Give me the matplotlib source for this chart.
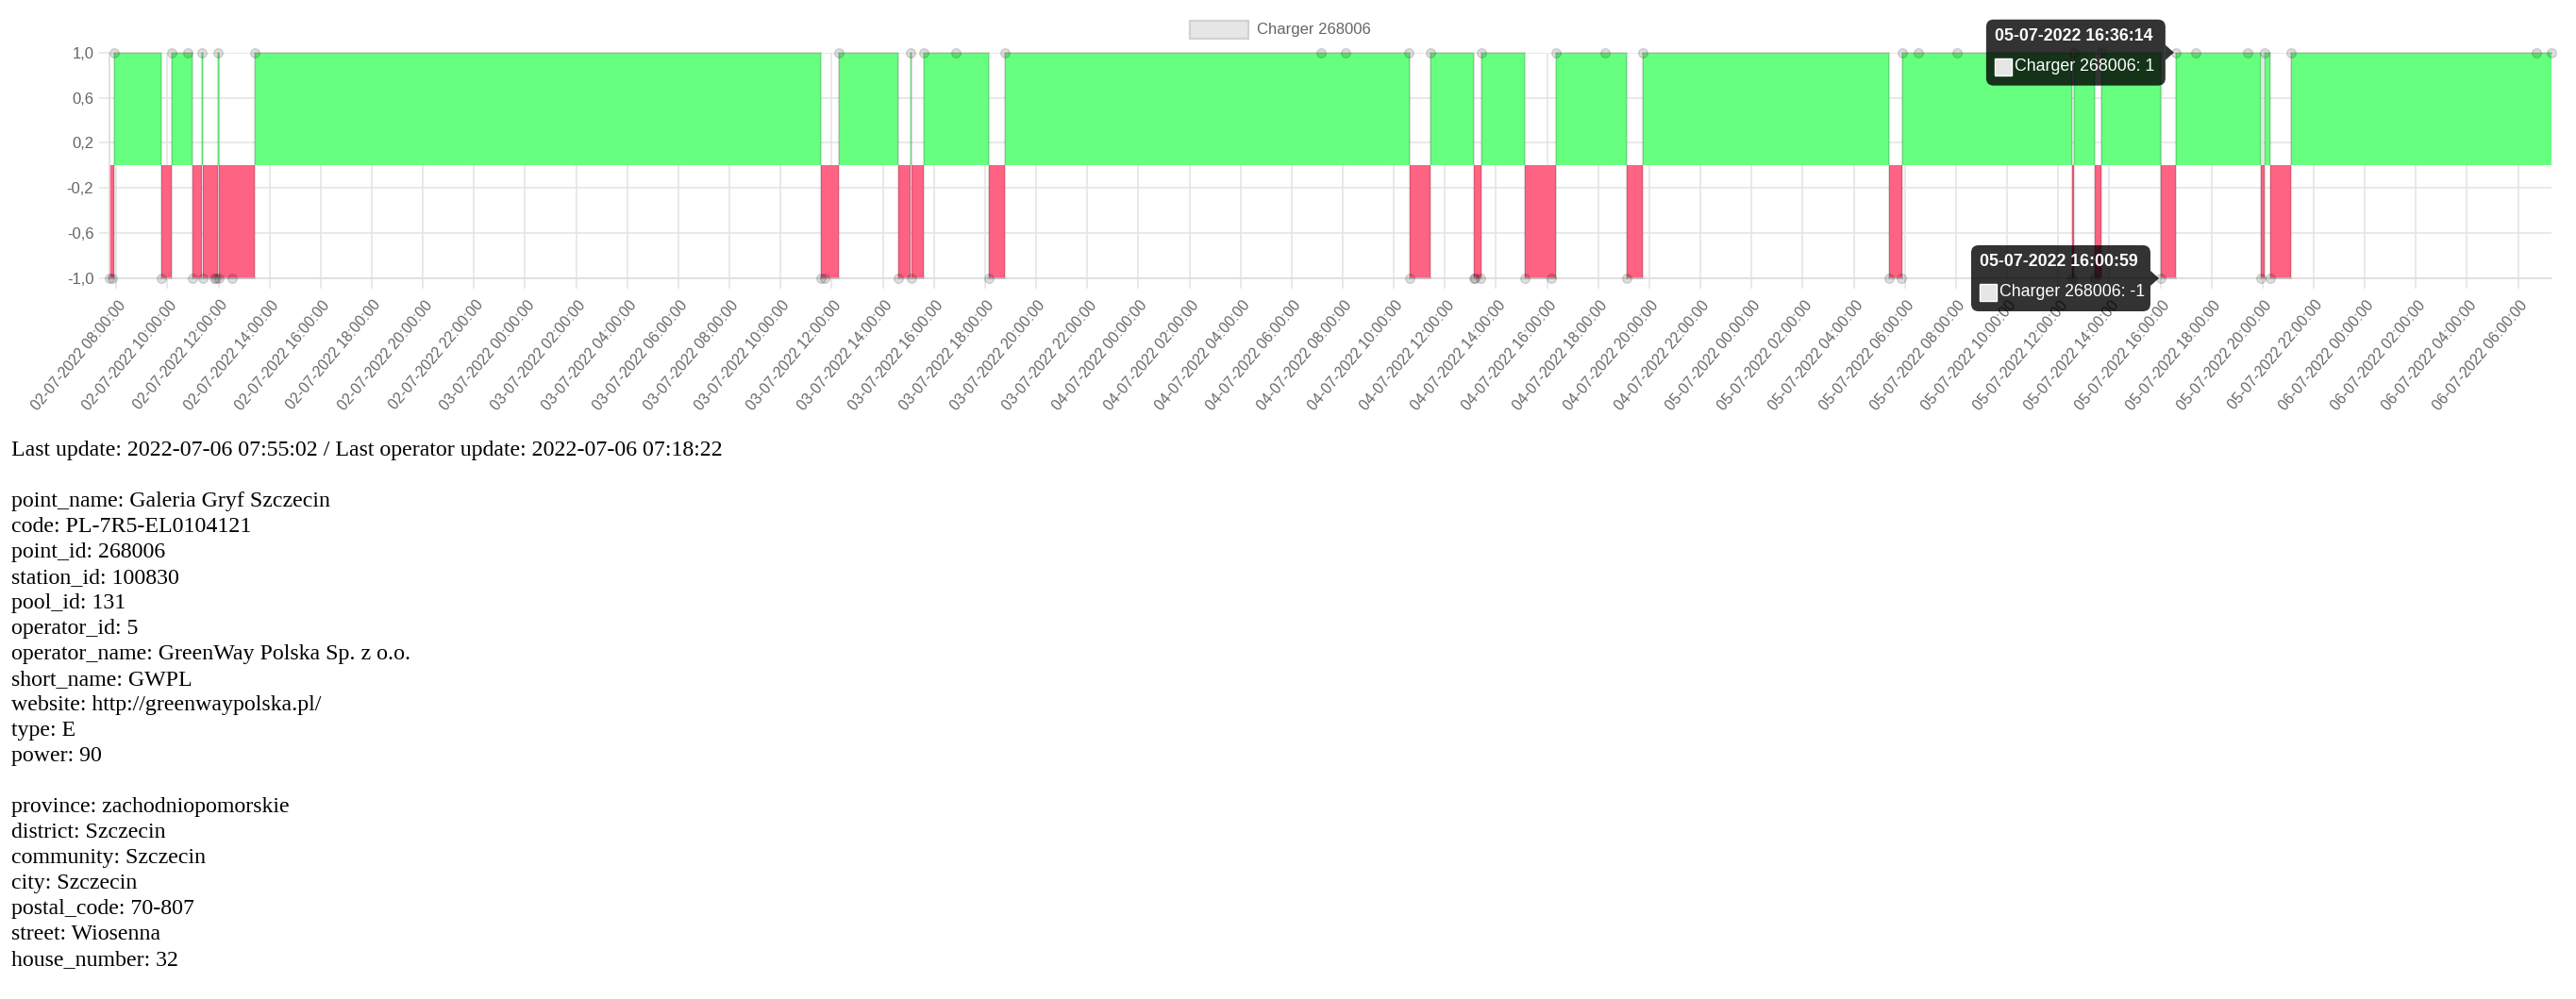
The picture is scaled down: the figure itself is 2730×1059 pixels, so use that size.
import numpy as np
import pandas as pd
import matplotlib
matplotlib.use("Agg")
import matplotlib.pyplot as plt
import matplotlib.dates as mdates
import matplotlib.transforms as mtrans
from matplotlib.patches import FancyBboxPatch, Rectangle, Polygon

plt.rcParams['font.family'] = ['Liberation Sans', 'DejaVu Sans']

W, H, DPI = 2730, 1059, 100

# charger status samples: 1 = available, -1 = not available
times = [
    "2022-07-02 07:44", "2022-07-02 07:50", "2022-07-02 07:54", "2022-07-02 09:45",
    "2022-07-02 10:11", "2022-07-02 10:49", "2022-07-02 11:00", "2022-07-02 11:22",
    "2022-07-02 11:23", "2022-07-02 11:51", "2022-07-02 11:55", "2022-07-02 11:59",
    "2022-07-02 12:00", "2022-07-02 12:33", "2022-07-02 13:25",
    "2022-07-03 11:35", "2022-07-03 11:44", "2022-07-03 12:16", "2022-07-03 14:37",
    "2022-07-03 15:05", "2022-07-03 15:07", "2022-07-03 15:36", "2022-07-03 16:52",
    "2022-07-03 18:09", "2022-07-03 18:46",
    "2022-07-04 07:10", "2022-07-04 08:07", "2022-07-04 10:34", "2022-07-04 10:37",
    "2022-07-04 11:27", "2022-07-04 13:07", "2022-07-04 13:11", "2022-07-04 13:24",
    "2022-07-04 13:25", "2022-07-04 15:08", "2022-07-04 16:09", "2022-07-04 16:21",
    "2022-07-04 18:15", "2022-07-04 19:06", "2022-07-04 19:44",
    "2022-07-05 05:22", "2022-07-05 05:51", "2022-07-05 05:53", "2022-07-05 06:31",
    "2022-07-05 08:03", "2022-07-05 12:33", "2022-07-05 12:38", "2022-07-05 13:26",
    "2022-07-05 13:41", "2022-07-05 16:00:59", "2022-07-05 16:36:14", "2022-07-05 17:23",
    "2022-07-05 19:26", "2022-07-05 19:57", "2022-07-05 20:05", "2022-07-05 20:18",
    "2022-07-05 21:07",
    "2022-07-06 06:43", "2022-07-06 07:18:22",
]
status = [
    -1, -1, 1, -1,
    1, 1, -1, 1,
    -1, -1, -1, 1,
    -1, -1, 1,
    -1, -1, 1, -1,
    1, -1, 1, 1,
    -1, 1,
    1, 1, 1, -1,
    1, -1, -1, -1,
    1, -1, -1, 1,
    1, -1, 1,
    -1, -1, 1, 1,
    1, -1, 1, -1,
    1, -1, 1, 1,
    1, -1, 1, -1,
    1,
    1, 1,
]

series_label = "Charger 268006"
y_ticks = [-1.0, -0.6, -0.2, 0.2, 0.6, 1.0]
tooltip_times = ["2022-07-05 16:36:14", "2022-07-05 16:00:59"]

last_update = "2022-07-06 07:55:02"
last_operator_update = "2022-07-06 07:18:22"
point_info = [
    ("point_name", "Galeria Gryf Szczecin"),
    ("code", "PL-7R5-EL0104121"),
    ("point_id", "268006"),
    ("station_id", "100830"),
    ("pool_id", "131"),
    ("operator_id", "5"),
    ("operator_name", "GreenWay Polska Sp. z o.o."),
    ("short_name", "GWPL"),
    ("website", "http://greenwaypolska.pl/"),
    ("type", "E"),
    ("power", "90"),
]
address_info = [
    ("province", "zachodniopomorskie"),
    ("district", "Szczecin"),
    ("community", "Szczecin"),
    ("city", "Szczecin"),
    ("postal_code", "70-807"),
    ("street", "Wiosenna"),
    ("house_number", "32"),
]

GREEN = "#66ff80"
RED = "#ff6384"
GRID = "#e5e5e5"
TXT = "#666666"

fig = plt.figure(figsize=(W / DPI, H / DPI), dpi=DPI)
px0, px1, ptop, pbot = 116, 2704, 55.7, 295
ax = fig.add_axes([px0 / W, 1 - pbot / H, (px1 - px0) / W, (pbot - ptop) / H])

stamps = pd.to_datetime(times, format='mixed')
t = mdates.date2num(stamps.to_pydatetime())
v = np.array(status, dtype=float)

ax.fill_between(t, np.maximum(v, 0), 0, step='post', color=GREEN, lw=0, zorder=2)
ax.fill_between(t, np.minimum(v, 0), 0, step='post', color=RED, lw=0, zorder=2)
ax.plot(t, v, drawstyle='steps-post', color=(0, 0, 0, 0.13), lw=1.6, zorder=3, clip_on=False)
ax.plot(t, v, 'o', ls='none', ms=7, mfc=(0, 0, 0, 0.13), mec=(0, 0, 0, 0.14), mew=1,
        zorder=4, clip_on=False)

ax.set_xlim(t[0], t[-1])
ax.set_ylim(-1, 1)
ax.xaxis.set_major_locator(mdates.HourLocator(byhour=range(0, 24, 2)))
ax.xaxis.set_major_formatter(mdates.DateFormatter('%d-%m-%Y %H:%M:%S'))
ax.set_yticks(y_ticks)
ax.set_yticklabels([f"{y:.1f}".replace('.', ',') for y in y_ticks])
ax.grid(True, color=GRID, lw=1.2)
ax.set_axisbelow(True)
ax.tick_params(length=8, width=1.2, color=GRID, labelcolor=TXT, labelsize=12)
ax.tick_params(axis='x', pad=10.4, labelsize=11.3)
ax.tick_params(axis='y', pad=4)
for s in ['top', 'right']:
    ax.spines[s].set_visible(False)
for s in ['left', 'bottom']:
    ax.spines[s].set_color("#dcdcdc")
    ax.spines[s].set_linewidth(1.2)
shift = mtrans.ScaledTranslation(0.07, 0, fig.dpi_scale_trans)
for lbl in ax.get_xticklabels():
    lbl.set_rotation(50)
    lbl.set_ha('right')
    lbl.set_va('center')
    lbl.set_rotation_mode('anchor')
    lbl.set_transform(lbl.get_transform() + shift)

# overlay in pixel coordinates for legend / tooltips
ov = fig.add_axes([0, 0, 1, 1], zorder=10)
ov.set_xlim(0, W)
ov.set_ylim(H, 0)
ov.axis('off')
ov.patch.set_visible(False)

# legend
ov.add_patch(Rectangle((1261, 22), 62, 19, fc="#e6e6e6", ec="#d2d2d2", lw=1.6))
ov.text(1332, 31.5, series_label, color=TXT, fontsize=12, va='center', ha='left')

# tooltips
for ts in tooltip_times:
    val = status[times.index(ts)]
    stamp = pd.Timestamp(ts)
    tn = mdates.date2num(stamp.to_pydatetime())
    dx, dy = ax.transData.transform((tn, val))
    py = H - dy
    bw, bh = 190, 70
    right = dx - 11
    left = right - bw
    top = py - bh / 2
    ov.add_patch(FancyBboxPatch((left, top), bw, bh,
                                boxstyle='round,pad=0,rounding_size=8',
                                fc=(0, 0, 0, 0.8), ec='none'))
    ov.add_patch(Polygon([(right, py - 8), (right + 9, py), (right, py + 8)],
                         closed=True, fc=(0, 0, 0, 0.8), ec='none'))
    ov.text(left + 9, top + 18, stamp.strftime('%d-%m-%Y %H:%M:%S'),
            color='white', fontsize=12.8, fontweight='bold', va='center', ha='left')
    ov.add_patch(Rectangle((left + 9, top + 41), 18, 18, fc="#e6e6e6", ec='white', lw=1))
    ov.text(left + 30, top + 50, f"{series_label}: {val}", color='white',
            fontsize=12.8, va='center', ha='left')

# info text below the chart
lines = [f"Last update: {last_update} / Last operator update: {last_operator_update}", ""]
lines += [f"{k}: {val}" for k, val in point_info]
lines += [""]
lines += [f"{k}: {val}" for k, val in address_info]
for k, line in enumerate(lines):
    if line:
        fig.text(12 / W, 1 - (475 + 27 * k) / H, line, family='Liberation Serif',
                 fontsize=17.2, color='black', va='center_baseline', ha='left')

fig.savefig("out.png", dpi=DPI)
